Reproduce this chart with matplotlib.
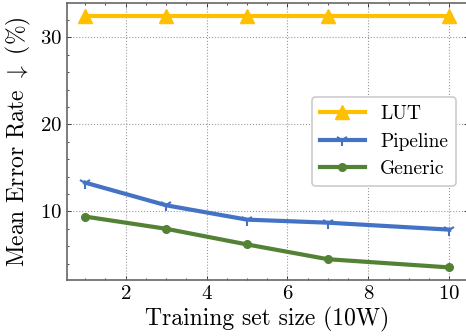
import matplotlib
matplotlib.use("Agg")
import matplotlib.pyplot as plt
from matplotlib.ticker import MultipleLocator, AutoMinorLocator

# data
train_size = [1, 3, 5, 7, 10]
lut = [32.5, 32.5, 32.5, 32.5, 32.5]
pipeline = [13.3, 10.7, 9.05, 8.7, 7.9]
generic = [9.4, 8.0, 6.2, 4.5, 3.56]

plt.rcParams.update({
    "font.family": "cmr10",
    "mathtext.fontset": "cm",
    "axes.formatter.use_mathtext": True,
    "axes.unicode_minus": False,
    "xtick.direction": "in",
    "ytick.direction": "in",
    "xtick.top": True,
    "ytick.right": True,
    "xtick.major.size": 3,
    "ytick.major.size": 3,
    "xtick.minor.size": 1.5,
    "ytick.minor.size": 1.5,
    "xtick.major.width": 0.5,
    "ytick.major.width": 0.5,
    "xtick.minor.width": 0.5,
    "ytick.minor.width": 0.5,
    "axes.linewidth": 1.2,
})

fig = plt.figure(figsize=(4.66, 3.36), dpi=100)
W, H = 466, 336
left, right, top, bottom = 67, 467.5, 3, 280
ax = fig.add_axes([left / W, (H - bottom) / H, (right - left) / W, (bottom - top) / H])

ax.plot(train_size, lut, color="#FFC000", lw=3, marker="^", ms=10, label="LUT")
ax.plot(train_size, pipeline, color="#4472C4", lw=3, marker="1", ms=9, mew=1.5,
        label="Pipeline")
ax.plot(train_size, generic, color="#548235", lw=3, marker="o", ms=5.5, label="Generic")

for s in ax.spines.values():
    s.set_color("#666666")

ax.yaxis.set_major_locator(MultipleLocator(10))
ax.yaxis.set_minor_locator(MultipleLocator(2))
ax.xaxis.set_minor_locator(AutoMinorLocator(4))
ax.tick_params(labelsize=15)
ax.grid(True, which="major", ls=":", lw=0.8, color="#999999")

ax.set_xlabel("Training set size (10W)", fontsize=17, labelpad=3)
ax.set_ylabel(r"Mean Error Rate $\downarrow$ (%)", fontsize=17, labelpad=5)

leg = ax.legend(loc="center right", fontsize=14, handlelength=2.3,
                borderaxespad=0.6, framealpha=1, edgecolor="#cccccc", fancybox=True)
leg.get_frame().set_linewidth(1.2)

fig.savefig("out.png", dpi=100)
